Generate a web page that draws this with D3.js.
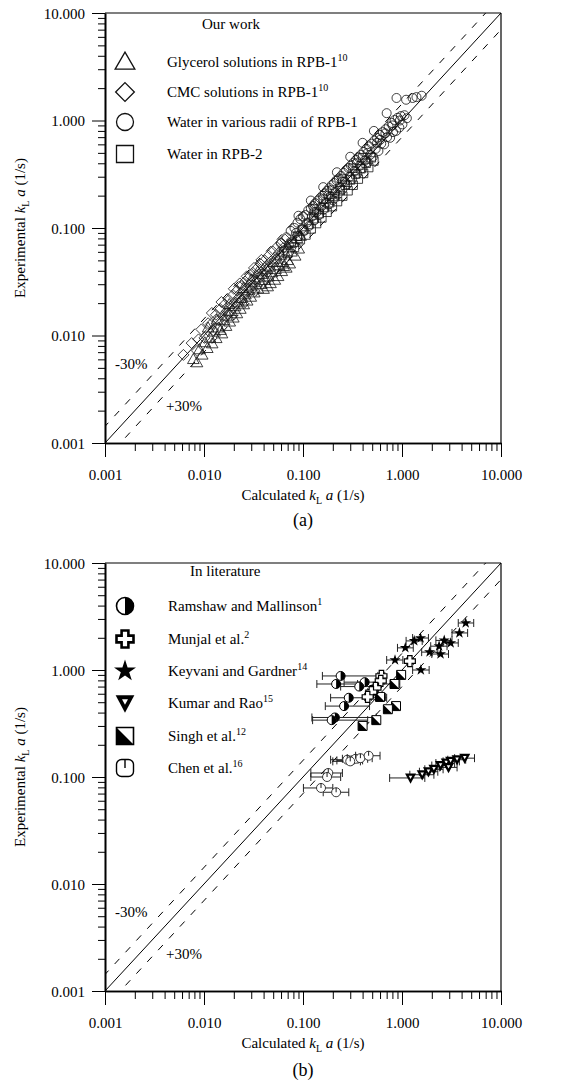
<!DOCTYPE html>
<html><head><meta charset="utf-8">
<script src="https://cdn.jsdelivr.net/npm/d3@7"></script>
<style>
body{margin:0;background:#fff}
text{font-family:"Liberation Serif","Times New Roman",serif;fill:#000}
</style>
</head><body>
<svg id="c" width="573" height="1080"></svg>
<script>
// ---------- axis ticks ----------
const majorTicks = [0.001, 0.01, 0.1, 1, 10];
const tickLabels = ["0.001", "0.010", "0.100", "1.000", "10.000"];
const minorMultipliers = [2, 3, 4, 5, 6, 7, 8, 9];
const refRatios = [1, 1 / 0.7, 0.7]; // parity line and ±30% lines

// ---------- panel (a) data: [calculated, experimental] ----------
const glycerol = [[0.0078,0.0060],[0.0085,0.0056],[0.0090,0.0074],[0.0096,0.0066],[0.0102,0.0086],[0.0108,0.0076],[0.0115,0.0095],[0.0121,0.0084],[0.0128,0.0108],[0.0133,0.0094],[0.0140,0.0118],[0.0147,0.0112],[0.0152,0.0104],[0.0160,0.0138],[0.0167,0.0122],[0.0175,0.0152],[0.0182,0.0134],[0.0190,0.0168],[0.0198,0.0146],[0.0206,0.0186],[0.0215,0.0160],[0.0224,0.0202],[0.0233,0.0176],[0.0242,0.0222],[0.0252,0.0194],[0.0262,0.0240],[0.0273,0.0210],[0.0285,0.0262],[0.0297,0.0228],[0.0310,0.0290],[0.0322,0.0250],[0.0336,0.0314],[0.0350,0.0272],[0.0365,0.0345],[0.0380,0.0300],[0.0396,0.0372],[0.0412,0.0326],[0.0430,0.0410],[0.0448,0.0352],[0.0467,0.0436],[0.0486,0.0385],[0.0506,0.0480],[0.0528,0.0412],[0.0550,0.0515],[0.0574,0.0448],[0.0598,0.0560],[0.0624,0.0480],[0.0650,0.0600],[0.0678,0.0425],[0.0705,0.0655],[0.0735,0.0465],[0.0766,0.0600],[0.0800,0.0735],[0.0834,0.0550],[0.0870,0.0800],[0.0906,0.0640],[0.0945,0.0840],[0.0560,0.0355],[0.0520,0.0328],[0.0470,0.0305],[0.0610,0.0395],[0.0440,0.0285],[0.0400,0.0270],[0.0250,0.0275],[0.0300,0.0330],[0.0350,0.0392],[0.0180,0.0195],[0.0640,0.0440],[0.0700,0.0500],[0.0110,0.0118],[0.0135,0.0140]];
const cmc = [[0.0062,0.0066],[0.0075,0.0085],[0.0088,0.0092],[0.0094,0.0114],[0.0101,0.0095],[0.0110,0.0130],[0.0118,0.0128],[0.0124,0.0112],[0.0132,0.0156],[0.0140,0.0138],[0.0146,0.0176],[0.0155,0.0152],[0.0162,0.0195],[0.0170,0.0168],[0.0178,0.0214],[0.0188,0.0188],[0.0196,0.0238],[0.0205,0.0204],[0.0216,0.0262],[0.0226,0.0226],[0.0238,0.0288],[0.0248,0.0250],[0.0260,0.0318],[0.0272,0.0276],[0.0286,0.0348],[0.0298,0.0302],[0.0312,0.0382],[0.0328,0.0332],[0.0342,0.0420],[0.0358,0.0366],[0.0375,0.0460],[0.0392,0.0400],[0.0410,0.0500],[0.0430,0.0440],[0.0450,0.0552],[0.0472,0.0486],[0.0495,0.0605],[0.0520,0.0530],[0.0545,0.0665],[0.0570,0.0585],[0.0600,0.0725],[0.0630,0.0650],[0.0660,0.0780],[0.0200,0.0272],[0.0230,0.0305],[0.0150,0.0205],[0.0120,0.0162],[0.0270,0.0355],[0.0320,0.0425],[0.0380,0.0505],[0.0175,0.0158],[0.0240,0.0212],[0.0300,0.0265],[0.0085,0.0072],[0.0440,0.0390]];
const waterRPB1 = [[0.060,0.072],[0.064,0.062],[0.068,0.082],[0.072,0.070],[0.075,0.094],[0.078,0.075],[0.082,0.100],[0.085,0.090],[0.088,0.112],[0.091,0.084],[0.094,0.121],[0.097,0.098],[0.100,0.128],[0.103,0.094],[0.106,0.132],[0.110,0.112],[0.113,0.146],[0.116,0.105],[0.120,0.152],[0.123,0.128],[0.126,0.160],[0.130,0.118],[0.133,0.170],[0.137,0.140],[0.141,0.180],[0.145,0.133],[0.149,0.190],[0.153,0.158],[0.157,0.200],[0.161,0.148],[0.166,0.210],[0.170,0.172],[0.175,0.222],[0.180,0.165],[0.185,0.235],[0.190,0.196],[0.195,0.250],[0.200,0.182],[0.206,0.262],[0.212,0.215],[0.218,0.278],[0.224,0.205],[0.230,0.290],[0.236,0.242],[0.243,0.305],[0.250,0.228],[0.257,0.325],[0.264,0.270],[0.272,0.345],[0.280,0.255],[0.288,0.362],[0.296,0.300],[0.305,0.382],[0.314,0.285],[0.323,0.405],[0.333,0.340],[0.343,0.430],[0.353,0.320],[0.364,0.455],[0.375,0.380],[0.386,0.480],[0.398,0.360],[0.410,0.510],[0.423,0.425],[0.436,0.545],[0.450,0.410],[0.464,0.575],[0.478,0.480],[0.493,0.610],[0.508,0.460],[0.525,0.650],[0.542,0.545],[0.560,0.690],[0.578,0.520],[0.597,0.735],[0.617,0.610],[0.638,0.780],[0.660,0.600],[0.683,0.830],[0.707,0.700],[0.732,0.880],[0.758,0.690],[0.785,0.950],[0.813,0.780],[0.842,1.010],[0.872,0.800],[0.905,1.060],[0.940,0.860],[0.975,1.100],[1.010,0.920],[1.060,1.120],[1.120,1.050],[0.700,1.170],[0.880,1.620],[1.100,1.560],[1.280,1.620],[1.580,1.700],[1.400,1.650],[0.520,0.800],[0.400,0.620],[0.300,0.460],[0.220,0.330],[0.160,0.240],[0.120,0.180],[0.090,0.130],[0.350,0.400],[0.450,0.500],[0.600,0.660],[0.800,0.900],[0.950,1.000],[0.250,0.270],[0.180,0.200],[0.130,0.140],[0.680,0.760],[0.560,0.620]];
const waterRPB2 = [[0.070,0.058],[0.076,0.072],[0.082,0.066],[0.088,0.084],[0.094,0.078],[0.100,0.096],[0.107,0.086],[0.114,0.108],[0.121,0.098],[0.129,0.122],[0.137,0.110],[0.146,0.136],[0.155,0.124],[0.165,0.155],[0.175,0.140],[0.186,0.172],[0.198,0.158],[0.210,0.196],[0.223,0.176],[0.237,0.222],[0.252,0.198],[0.268,0.250],[0.285,0.222],[0.302,0.280],[0.321,0.250],[0.341,0.318],[0.362,0.285],[0.385,0.356],[0.409,0.322],[0.434,0.400],[0.461,0.365],[0.490,0.450],[0.520,0.420],[0.130,0.150],[0.160,0.185],[0.200,0.225],[0.250,0.285],[0.320,0.360],[0.400,0.450]];

// ---------- panel (b) data: [calculated, experimental, calc low, calc high] ----------
const ramshaw = [[0.24,0.88,0.157,0.59],[0.216,0.74,0.138,0.356],[0.42,0.77,0.26,0.62],[0.37,0.70,0.24,0.55],[0.29,0.55,0.19,0.70],[0.26,0.46,0.168,0.47],[0.21,0.36,0.123,0.55],[0.195,0.34,0.125,0.45]];
const munjal = [[1.20,1.21,1.12,1.30],[0.62,0.88,0.57,0.67],[0.61,0.79,0.56,0.66],[0.54,0.68,0.50,0.58],[0.49,0.62,0.45,0.53],[0.45,0.56,0.42,0.49]];
const keyvani = [[4.4,2.75,3.7,5.3],[3.8,2.22,3.2,4.6],[1.54,1.99,1.28,1.85],[1.33,1.87,1.1,1.6],[1.08,1.61,0.9,1.3],[2.67,1.89,2.2,3.2],[3.1,1.79,2.6,3.7],[2.37,1.67,1.95,2.85],[1.9,1.47,1.58,2.3],[2.45,1.41,2.0,2.95],[0.85,1.24,0.70,1.02],[1.55,1.00,1.28,1.88]];
const kumar = [[1.22,0.098,0.75,1.7],[1.60,0.105,1.2,2.1],[1.85,0.112,1.5,2.3],[2.10,0.118,1.7,2.6],[2.45,0.128,2.0,3.0],[2.80,0.135,2.2,3.4],[3.10,0.140,2.6,3.8],[3.60,0.145,2.9,4.4],[4.30,0.150,3.4,5.4],[2.95,0.123,2.4,3.6]];
const singh = [[0.98,0.90,0.90,1.07],[0.84,0.74,0.62,0.95],[0.60,0.56,0.55,0.68],[0.87,0.46,0.82,0.93],[0.72,0.43,0.68,0.77],[0.55,0.34,0.52,0.58],[0.40,0.30,0.38,0.42]];
const chen = [[0.152,0.079,0.101,0.20],[0.216,0.072,0.16,0.29],[0.180,0.109,0.12,0.25],[0.175,0.100,0.12,0.24],[0.28,0.145,0.19,0.36],[0.31,0.143,0.22,0.40],[0.34,0.148,0.25,0.45],[0.38,0.150,0.28,0.50],[0.46,0.158,0.34,0.60],[0.30,0.140,0.20,0.38]];

// ---------- legend texts ----------
const legendA = [
  {shape:"tri", label:"Glycerol solutions in RPB-1", sup:"10"},
  {shape:"dia", label:"CMC solutions in RPB-1", sup:"10"},
  {shape:"circ", label:"Water in various radii of RPB-1", sup:""},
  {shape:"sq", label:"Water in RPB-2", sup:""}
];
const legendB = [
  {shape:"half", label:"Ramshaw and Mallinson", sup:"1"},
  {shape:"plus", label:"Munjal et al.", sup:"2"},
  {shape:"star", label:"Keyvani and Gardner", sup:"14"},
  {shape:"vtri", label:"Kumar and Rao", sup:"15"},
  {shape:"hsq", label:"Singh et al.", sup:"12"},
  {shape:"chen", label:"Chen et al.", sup:"16"}
];

const svg = d3.select("#c");
const minorTicks = [];
majorTicks.slice(0, -1).forEach(m => minorMultipliers.forEach(k => minorTicks.push(m * k)));

function makePanel(yTop, yBot) {
  return {
    x: d3.scaleLog().domain([0.001, 10]).range([105, 501]),
    y: d3.scaleLog().domain([0.001, 10]).range([yBot, yTop]),
    top: yTop, bot: yBot
  };
}
const pa = makePanel(13, 443), pb = makePanel(563, 991);

// ---------- shapes ----------
function shapePath(shape, s) {
  const h = s / 2;
  switch (shape) {
    case "tri": return `M0,${-s*0.58}L${s*0.58},${s*0.42}L${-s*0.58},${s*0.42}Z`;
    case "dia": return `M0,${-h*1.1}L${h*1.1},0L0,${h*1.1}L${-h*1.1},0Z`;
    case "sq": return `M${-h},${-h}H${h}V${h}H${-h}Z`;
    case "vtri": return `M${-s*0.55},${-s*0.45}L${s*0.55},${-s*0.45}L0,${s*0.58}Z`;
    case "plus": { const a = s*0.2, b = h; return `M${-a},${-b}H${a}V${-a}H${b}V${a}H${a}V${b}H${-a}V${a}H${-b}V${-a}H${-a}Z`; }
  }
}
function drawMarker(g, shape, cx, cy, s, legend) {
  const m = g.append("g").attr("transform", `translate(${cx},${cy})`);
  const sw = legend ? 1.3 : 0.8;
  const st = "#111";
  if (shape === "circ") {
    m.append("circle").attr("r", s/2).attr("fill", "none").attr("stroke", st).attr("stroke-width", sw);
  } else if (["tri","dia","sq"].includes(shape)) {
    m.append("path").attr("d", shapePath(shape, s)).attr("fill", "none").attr("stroke", st).attr("stroke-width", sw);
  } else if (shape === "half") {
    const r = s/2;
    m.append("circle").attr("r", r).attr("fill", "#fff").attr("stroke", "#000").attr("stroke-width", legend ? 1.6 : 1);
    m.append("path").attr("d", `M0,${-r}A${r},${r} 0 0 1 0,${r}Z`).attr("fill", "#000");
  } else if (shape === "plus") {
    m.append("path").attr("d", shapePath("plus", s)).attr("fill", "#fff").attr("stroke", "#000").attr("stroke-width", legend ? 2.6 : 1.2);
  } else if (shape === "star") {
    m.append("path").attr("d", d3.symbol().type(d3.symbolStar).size(legend ? 150 : 38)()).attr("fill", "#000");
  } else if (shape === "vtri") {
    m.append("path").attr("d", shapePath("vtri", s)).attr("fill", "#000");
    m.append("path").attr("d", shapePath("vtri", s * 0.32)).attr("transform", `translate(0,${-s*0.08})`).attr("fill", "#fff");
  } else if (shape === "hsq") {
    const h = s/2;
    m.append("path").attr("d", shapePath("sq", s)).attr("fill", "#fff").attr("stroke", "#000").attr("stroke-width", legend ? 1.6 : 1);
    m.append("path").attr("d", `M${-h},${-h}L${h},${h}H${-h}Z`).attr("fill", "#000");
  } else if (shape === "chen") {
    const h = s/2;
    if (legend) {
      m.append("rect").attr("x", -h).attr("y", -h).attr("width", s).attr("height", s).attr("rx", s*0.3)
        .attr("fill", "#fff").attr("stroke", "#000").attr("stroke-width", 1.4);
    } else {
      m.append("circle").attr("r", h).attr("fill", "#fff").attr("stroke", "#222").attr("stroke-width", 0.9);
    }
    m.append("line").attr("x1", 0).attr("x2", 0).attr("y1", -h).attr("y2", 0).attr("stroke", "#000").attr("stroke-width", legend ? 1.4 : 0.9);
  }
}

// ---------- frame, axes, reference lines ----------
function drawFrame(p, id) {
  const g = svg.append("g");
  const y0 = p.y(0.001);
  g.append("g").attr("transform", `translate(0,${y0})`)
    .call(d3.axisBottom(p.x).tickValues(minorTicks).tickSize(8).tickFormat("").tickSizeOuter(0));
  g.append("g").attr("transform", `translate(105,0)`)
    .call(d3.axisLeft(p.y).tickValues(minorTicks).tickSize(7).tickFormat("").tickSizeOuter(0));
  const xa = g.append("g").attr("transform", `translate(0,${y0})`)
    .call(d3.axisBottom(p.x).tickValues(majorTicks).tickSize(14).tickSizeOuter(0)
      .tickFormat((d, i) => tickLabels[i]));
  xa.selectAll("text").attr("y", 37).attr("dy", null).attr("font-size", 15);
  const ya = g.append("g").attr("transform", `translate(105,0)`)
    .call(d3.axisLeft(p.y).tickValues(majorTicks).tickSize(13).tickPadding(7).tickSizeOuter(0)
      .tickFormat((d, i) => tickLabels[i]));
  ya.selectAll("text").attr("font-size", 15).attr("dy", "0.35em");
  g.selectAll(".domain").attr("stroke", "#000").attr("stroke-width", 1.6);
  g.selectAll(".tick line").attr("stroke", "#000").attr("stroke-width", 1);
  g.selectAll("text").attr("font-family", '"Liberation Serif", serif');
  g.append("line").attr("x1", 105).attr("x2", 501).attr("y1", p.top).attr("y2", p.top).attr("stroke", "#000").attr("stroke-width", 1.2);
  g.append("line").attr("x1", 501).attr("x2", 501).attr("y1", p.top).attr("y2", p.bot).attr("stroke", "#000").attr("stroke-width", 1.2);

  svg.append("clipPath").attr("id", "clip" + id).append("rect")
    .attr("x", 105).attr("y", p.top).attr("width", 396).attr("height", p.bot - p.top);
  const lg = svg.append("g").attr("clip-path", `url(#clip${id})`);
  refRatios.forEach((r, i) => {
    lg.append("line")
      .attr("x1", p.x(0.0001)).attr("y1", p.y(0.0001 * r))
      .attr("x2", p.x(100)).attr("y2", p.y(100 * r))
      .attr("stroke", "#000").attr("stroke-width", 1)
      .attr("stroke-dasharray", i === 0 ? null : "7,9");
  });
  const xt = svg.append("text").attr("x", 303).attr("y", p.bot + 57).attr("text-anchor", "middle").attr("font-size", 15);
  xt.append("tspan").text("Calculated ");
  xt.append("tspan").attr("font-style", "italic").text("k");
  xt.append("tspan").attr("font-size", 10).attr("dy", 4).text("L");
  xt.append("tspan").attr("font-style", "italic").attr("dy", -4).text(" a");
  xt.append("tspan").text(" (1/s)");
  const cy = (p.top + p.bot) / 2;
  const yt = svg.append("text").attr("transform", `translate(25,${cy}) rotate(-90)`).attr("text-anchor", "middle").attr("font-size", 15);
  yt.append("tspan").text("Experimental ");
  yt.append("tspan").attr("font-style", "italic").text("k");
  yt.append("tspan").attr("font-size", 10).attr("dy", 4).text("L");
  yt.append("tspan").attr("font-style", "italic").attr("dy", -4).text(" a");
  yt.append("tspan").text(" (1/s)");
  svg.append("text").attr("x", 115).attr("y", p.bot - 74).attr("font-size", 15).text("-30%");
  svg.append("text").attr("x", 166).attr("y", p.bot - 32).attr("font-size", 15).text("+30%");
  return lg;
}

function legendRow(g, item, mx, tx, y, size) {
  drawMarker(g, item.shape, mx, y, size, true);
  const t = g.append("text").attr("x", tx).attr("y", y + 5).attr("font-size", 15);
  t.append("tspan").text(item.label);
  if (item.sup) t.append("tspan").attr("font-size", 10).attr("dy", -6).text(item.sup);
}

// ---------- Panel (a) ----------
const ga = drawFrame(pa, "a");
const series = [[glycerol, "tri", 10], [cmc, "dia", 10], [waterRPB2, "sq", 8.5], [waterRPB1, "circ", 9]];
series.forEach(([data, shape, s]) => {
  data.forEach(d => drawMarker(ga, shape, pa.x(d[0]), pa.y(d[1]), s, false));
});
svg.append("text").attr("x", 202).attr("y", 29).attr("font-size", 15).text("Our work");
const legA = svg.append("g");
[62, 92, 122, 154].forEach((y, i) => legendRow(legA, legendA[i], 125, 167, y, 17));
svg.append("text").attr("x", 303).attr("y", 526).attr("text-anchor", "middle").attr("font-size", 18).text("(a)");

// ---------- Panel (b) ----------
const gb = drawFrame(pb, "b");
const seriesB = [[chen, "chen", 9], [kumar, "vtri", 10], [ramshaw, "half", 9], [singh, "hsq", 9], [munjal, "plus", 11], [keyvani, "star", 0]];
seriesB.forEach(([data, shape, s]) => {
  data.forEach(d => {
    const yy = pb.y(d[1]);
    const eb = gb.append("g").attr("stroke", "#222").attr("stroke-width", 1);
    eb.append("line").attr("x1", pb.x(d[2])).attr("x2", pb.x(d[3])).attr("y1", yy).attr("y2", yy);
    eb.append("line").attr("x1", pb.x(d[2])).attr("x2", pb.x(d[2])).attr("y1", yy - 4).attr("y2", yy + 4);
    eb.append("line").attr("x1", pb.x(d[3])).attr("x2", pb.x(d[3])).attr("y1", yy - 4).attr("y2", yy + 4);
  });
  data.forEach(d => drawMarker(gb, shape, pb.x(d[0]), pb.y(d[1]), s, false));
});
svg.append("text").attr("x", 190).attr("y", 576).attr("font-size", 15).text("In literature");
const legB = svg.append("g");
[606, 639, 671, 703, 736, 768].forEach((y, i) => legendRow(legB, legendB[i], 125, 168, y, 17));
svg.append("text").attr("x", 303).attr("y", 1076).attr("text-anchor", "middle").attr("font-size", 18).text("(b)");
</script>
</body></html>
